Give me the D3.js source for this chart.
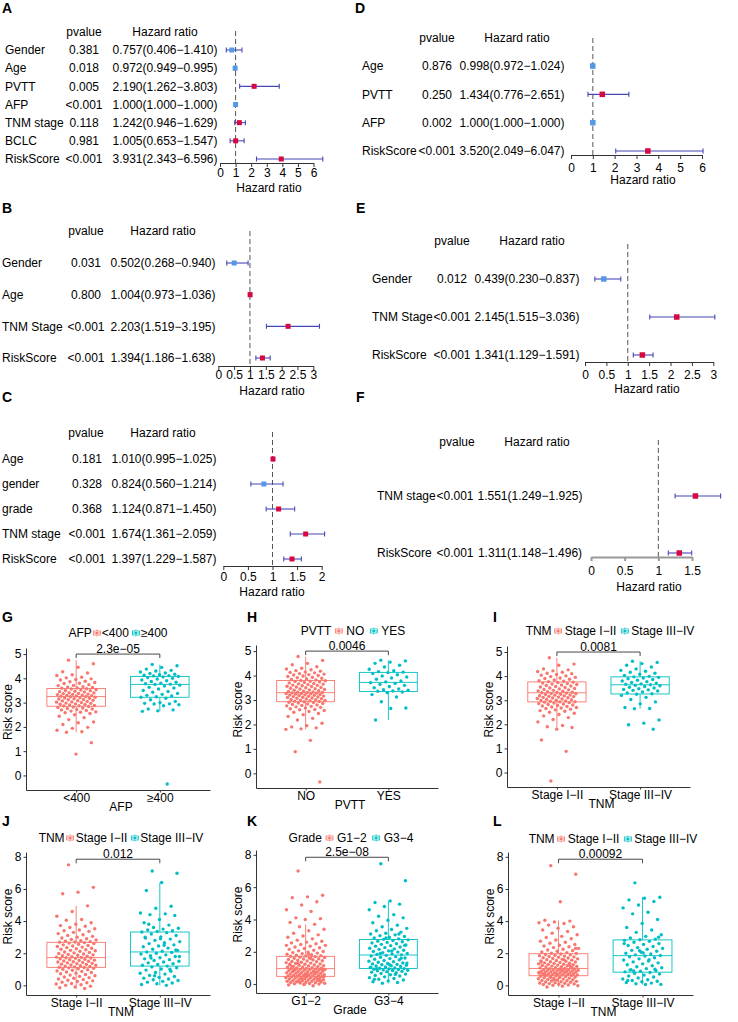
<!DOCTYPE html>
<html>
<head>
<meta charset="utf-8">
<title>Cox forest plots and risk score boxplots</title>
<style type="text/css">
  body { margin: 0; background: #fff; }
  svg { display: block; font-family: Arial, "Liberation Sans", Helvetica, sans-serif; font-size: 12px; }
</style>
</head>
<body>

<div id="chart"></div>

<script src="https://d3js.org/d3.v7.min.js"></script>
<script type="text/javascript">
// ---- forest plot data ----
var A_vars = ["Gender", "Age", "PVTT", "AFP", "TNM stage", "BCLC", "RiskScore"];
var A_p = ["0.381", "0.018", "0.005", "<0.001", "0.118", "0.981", "<0.001"];
var A_hr = [0.757, 0.972, 2.190, 1.000, 1.242, 1.005, 3.931];
var A_lo = [0.406, 0.949, 1.262, 1.000, 0.946, 0.653, 2.343];
var A_hi = [1.410, 0.995, 3.803, 1.000, 1.629, 1.547, 6.596];

var B_vars = ["Gender", "Age", "TNM Stage", "RiskScore"];
var B_p = ["0.031", "0.800", "<0.001", "<0.001"];
var B_hr = [0.502, 1.004, 2.203, 1.394];
var B_lo = [0.268, 0.973, 1.519, 1.186];
var B_hi = [0.940, 1.036, 3.195, 1.638];

var C_vars = ["Age", "gender", "grade", "TNM stage", "RiskScore"];
var C_p = ["0.181", "0.328", "0.368", "<0.001", "<0.001"];
var C_hr = [1.010, 0.824, 1.124, 1.674, 1.397];
var C_lo = [0.995, 0.560, 0.871, 1.361, 1.229];
var C_hi = [1.025, 1.214, 1.450, 2.059, 1.587];

var D_vars = ["Age", "PVTT", "AFP", "RiskScore"];
var D_p = ["0.876", "0.250", "0.002", "<0.001"];
var D_hr = [0.998, 1.434, 1.000, 3.520];
var D_lo = [0.972, 0.776, 1.000, 2.049];
var D_hi = [1.024, 2.651, 1.000, 6.047];

var E_vars = ["Gender", "TNM Stage", "RiskScore"];
var E_p = ["0.012", "<0.001", "<0.001"];
var E_hr = [0.439, 2.145, 1.341];
var E_lo = [0.230, 1.515, 1.129];
var E_hi = [0.837, 3.036, 1.591];

var F_vars = ["TNM stage", "RiskScore"];
var F_p = ["<0.001", "<0.001"];
var F_hr = [1.551, 1.311];
var F_lo = [1.249, 1.148];
var F_hi = [1.925, 1.496];

// ---- boxplot data (risk scores read off the jittered points) ----
// box stats: [lower whisker, q1, median, q3, upper whisker]
var G_cats = ["<400", "\u2265400"];
var G_box = [[1.78, 2.85, 3.25, 3.58, 4.75], [2.64, 3.22, 3.75, 4.08, 4.56]];
var G_low = [4.75,4.6,4.46,4.27,4.22,4.15,4.12,4.05,4.02,3.98,3.95,3.93,3.88,3.86,3.83,3.8,3.79,3.74,3.71,3.7,3.66,3.64,3.62,3.6,3.59,
  3.57,3.56,3.53,3.52,3.5,3.49,3.47,3.45,3.44,3.41,3.4,3.38,3.37,3.35,3.34,3.33,3.31,3.3,3.29,3.27,3.26,3.25,3.24,3.22,3.2,
  3.19,3.18,3.16,3.15,3.13,3.12,3.1,3.08,3.07,3.05,3.03,3.02,3.0,2.98,2.97,2.95,2.93,2.92,2.9,2.88,2.87,2.86,2.84,2.82,2.8,
  2.78,2.76,2.74,2.72,2.7,2.68,2.65,2.62,2.6,2.58,2.55,2.5,2.44,2.38,2.3,2.2,2.17,2.1,1.98,1.94,1.86,1.8,1.78,1.35,0.88];
var G_high = [4.57,4.52,4.45,4.38,4.33,4.3,4.26,4.22,4.2,4.17,4.15,4.13,4.11,4.1,4.08,4.06,4.03,4.0,3.97,3.93,3.9,3.87,3.84,3.8,3.78,
  3.76,3.75,3.72,3.68,3.63,3.6,3.56,3.5,3.46,3.43,3.38,3.34,3.3,3.27,3.24,3.22,3.18,3.12,3.05,3.0,2.97,2.95,2.94,2.91,2.87,2.74,2.7,2.66,2.64,-0.35];

var H_cats = ["NO", "YES"];
var H_box = [[1.8, 2.93, 3.3, 3.8, 4.77], [2.18, 3.35, 3.72, 4.13, 4.62]];
var H_no = [4.78,4.62,4.5,4.44,4.36,4.3,4.27,4.24,4.2,4.18,4.15,4.13,4.11,4.08,4.06,4.04,4.02,4.0,3.98,3.96,3.93,3.91,3.89,3.86,3.84,3.82,3.8,
  3.79,3.77,3.76,3.74,3.72,3.7,3.68,3.66,3.65,3.63,3.61,3.6,3.58,3.56,3.55,3.53,3.51,3.5,3.48,3.46,3.45,3.43,3.41,3.4,3.38,3.36,3.35,3.33,3.32,3.31,
  3.3,3.29,3.28,3.27,3.26,3.25,3.24,3.22,3.21,3.2,3.19,3.18,3.16,3.15,3.14,3.12,3.11,3.1,3.08,3.07,3.05,3.04,3.02,3.01,2.99,2.98,2.97,2.95,2.94,
  2.93,2.91,2.9,2.88,2.86,2.84,2.82,2.8,2.78,2.76,2.74,2.72,2.7,2.67,2.64,2.61,2.6,2.57,2.53,2.5,2.45,2.4,2.33,2.25,2.18,2.05,1.95,1.9,1.86,1.82,1.8,1.35,0.88,-0.35];
var H_yes = [4.63,4.6,4.55,4.5,4.42,4.35,4.26,4.2,4.16,4.14,4.12,4.08,4.03,3.98,3.94,3.9,3.85,3.78,3.74,3.71,3.68,3.64,3.6,3.55,3.5,3.45,3.42,3.4,
  3.37,3.36,3.33,3.3,3.22,3.12,2.93,2.67,2.65,2.18];

var I_cats = ["Stage I\u2212II", "Stage III\u2212IV"];
var I_box = [[1.86, 2.93, 3.31, 3.76, 4.76], [2.65, 3.26, 3.64, 3.97, 4.62]];
var I_low = [4.76,4.5,4.45,4.3,4.26,4.22,4.19,4.16,4.12,4.1,4.07,4.04,4.01,3.98,3.95,3.92,3.9,3.87,3.84,3.81,3.79,3.77,
  3.75,3.73,3.71,3.69,3.67,3.65,3.63,3.61,3.59,3.57,3.55,3.53,3.51,3.49,3.47,3.45,3.43,3.41,3.39,3.37,3.35,3.33,3.32,
  3.31,3.3,3.28,3.27,3.25,3.24,3.22,3.21,3.19,3.18,3.16,3.15,3.13,3.12,3.1,3.09,3.07,3.05,3.04,3.02,3.0,2.99,2.97,2.96,2.94,
  2.93,2.92,2.9,2.88,2.86,2.84,2.82,2.8,2.78,2.76,2.74,2.72,2.7,2.68,2.66,2.63,2.6,2.57,2.54,2.5,2.46,2.41,2.35,2.28,2.2,2.1,1.95,1.9,1.87,1.8,1.35,0.88,-0.35];
var I_high = [4.62,4.57,4.52,4.45,4.38,4.3,4.24,4.2,4.16,4.12,4.08,4.03,3.99,3.97,3.95,3.92,3.89,3.86,3.83,3.8,3.77,3.74,3.71,3.68,3.66,3.64,
  3.62,3.6,3.57,3.54,3.51,3.48,3.45,3.43,3.41,3.38,3.34,3.3,3.27,3.25,3.2,3.12,3.03,2.93,2.85,2.7,2.66,2.65,2.18,2.05,1.98,1.8];

var J_cats = ["Stage I\u2212II", "Stage III\u2212IV"];
var J_box = [[-0.2, 1.12, 1.73, 2.68, 4.95], [0.0, 1.2, 2.08, 3.32, 6.4]];
var J_low = [7.5,6.1,5.8,5.7,4.95,4.6,4.3,4.1,4.05,3.9,3.8,3.72,3.68,3.6,3.52,3.45,3.4,3.36,3.3,3.22,3.15,3.1,3.05,3.0,2.95,2.9,2.86,2.82,2.78,2.75,2.72,2.7,2.69,
  2.66,2.63,2.6,2.56,2.52,2.48,2.45,2.42,2.38,2.35,2.31,2.28,2.25,2.22,2.18,2.15,2.12,2.08,2.05,2.02,1.98,1.95,1.92,1.9,1.87,1.84,1.81,1.78,1.76,1.74,1.72,
  1.7,1.68,1.65,1.62,1.6,1.57,1.55,1.52,1.5,1.47,1.45,1.42,1.4,1.37,1.35,1.32,1.3,1.27,1.25,1.22,1.2,1.17,1.15,1.13,1.11,
  1.09,1.06,1.03,1.0,0.97,0.94,0.9,0.87,0.83,0.8,0.76,0.72,0.68,0.64,0.6,0.56,0.52,0.48,0.44,0.4,0.36,0.32,0.28,0.24,0.2,0.16,0.12,0.08,0.04,0.0,-0.05,-0.1,-0.15,-0.2];
var J_high = [7.12,6.98,6.4,5.9,4.92,4.8,4.5,4.45,4.4,4.35,4.1,3.9,3.75,3.6,3.55,3.5,3.45,3.4,3.35,3.32,
  3.28,3.2,3.1,3.02,2.95,2.88,2.8,2.72,2.65,2.6,2.52,2.45,2.4,2.32,2.25,2.18,2.12,2.08,
  2.05,2.0,1.95,1.9,1.85,1.8,1.72,1.65,1.6,1.55,1.5,1.45,1.4,1.35,1.3,1.25,1.2,
  1.15,1.1,1.02,0.95,0.88,0.8,0.75,0.7,0.62,0.55,0.5,0.45,0.4,0.35,0.3,0.25,0.2,0.15,0.1,0.05,0.0,1.7,2.2,2.9,3.0,1.0,0.6,1.8,2.5,3.8];

var K_cats = ["G1\u22122", "G3\u22124"];
var K_box = [[-0.1, 0.48, 0.96, 1.72, 3.7], [0.05, 0.97, 1.8, 2.76, 5.15]];
var K_low = [7.0,5.5,5.4,5.35,5.1,4.9,4.6,4.5,4.1,4.05,4.0,3.82,3.7,3.55,3.4,3.3,3.15,3.05,2.98,2.9,2.8,2.72,2.65,2.6,2.55,2.5,2.45,2.4,2.35,2.3,2.25,2.2,2.15,2.1,2.06,2.02,1.98,1.95,1.92,1.88,1.85,1.82,1.79,1.76,1.74,
  1.72,1.7,1.67,1.65,1.62,1.6,1.57,1.55,1.52,1.5,1.48,1.45,1.43,1.4,1.38,1.35,1.33,1.3,1.28,1.25,1.23,1.2,1.18,1.16,1.14,1.12,1.1,1.08,1.06,1.04,1.02,1.0,0.98,0.97,0.96,
  0.94,0.93,0.91,0.9,0.88,0.87,0.85,0.84,0.82,0.8,0.79,0.77,0.76,0.74,0.72,0.71,0.69,0.68,0.66,0.65,0.63,0.62,0.6,0.58,0.57,0.55,0.54,0.52,0.51,0.5,0.49,0.48,
  0.46,0.45,0.43,0.42,0.4,0.38,0.37,0.35,0.33,0.32,0.3,0.28,0.27,0.25,0.23,0.22,0.2,0.18,0.17,0.15,0.13,0.12,0.1,0.08,0.07,0.05,0.04,0.02,0.0,-0.02,-0.05,-0.1,
  1.3,0.9,0.6,1.1,0.75,0.35,2.4,1.6,0.95,0.2,0.55,1.25,0.7,0.15,0.45,1.85,0.85,0.3];
var K_high = [7.45,6.4,5.15,5.05,4.95,4.8,4.6,4.3,4.2,4.1,3.95,3.8,3.65,3.55,3.45,3.38,3.3,3.22,3.15,3.1,3.05,3.0,2.95,2.9,2.85,2.8,2.77,
  2.74,2.7,2.66,2.62,2.58,2.55,2.5,2.46,2.42,2.38,2.35,2.3,2.26,2.22,2.18,2.15,2.1,2.06,2.02,1.98,1.95,1.9,1.87,1.84,1.81,
  1.78,1.74,1.7,1.66,1.62,1.58,1.54,1.5,1.46,1.42,1.38,1.35,1.31,1.28,1.25,1.22,1.2,1.17,1.14,1.12,1.09,1.06,1.03,1.0,0.98,
  0.96,0.94,0.92,0.9,0.88,0.86,0.84,0.82,0.8,0.77,0.74,0.7,0.66,0.62,0.58,0.54,0.5,0.45,0.4,0.35,0.3,0.25,0.2,0.15,0.1,0.05,
  1.3,2.05,0.95,1.6,2.85,1.05,0.6,1.9,2.4,1.2,0.3,3.1];

var L_cats = ["Stage I\u2212II", "Stage III\u2212IV"];
var L_box = [[-0.1, 0.6, 1.05, 1.97, 4.05], [0.05, 0.82, 1.85, 2.83, 5.5]];
var L_low = [7.45,6.92,5.2,4.05,4.0,3.95,3.9,3.85,3.75,3.65,3.55,3.45,3.35,3.25,3.15,3.05,2.98,2.9,2.82,2.75,2.68,2.62,2.55,2.5,2.45,2.4,2.35,2.3,2.25,2.2,2.16,2.12,2.08,2.04,2.0,1.98,
  1.95,1.92,1.9,1.87,1.85,1.82,1.8,1.77,1.75,1.72,1.7,1.67,1.65,1.62,1.6,1.57,1.55,1.52,1.5,1.47,1.45,1.43,1.4,1.38,1.36,1.34,1.32,1.3,1.28,1.26,1.24,1.22,1.2,1.18,1.16,1.14,1.12,1.1,1.08,1.06,
  1.04,1.02,1.0,0.98,0.97,0.96,0.94,0.93,0.92,0.9,0.89,0.87,0.86,0.85,0.83,0.82,0.8,0.79,0.78,0.76,0.75,0.73,0.72,0.7,0.69,0.68,0.66,0.65,0.64,0.62,0.61,
  0.59,0.57,0.55,0.53,0.51,0.49,0.47,0.45,0.43,0.41,0.39,0.37,0.35,0.33,0.31,0.29,0.27,0.25,0.23,0.21,0.19,0.17,0.15,0.13,0.11,0.09,0.07,0.05,0.03,0.01,-0.02,-0.05,-0.1,
  1.1,0.7,1.45,0.9,0.5,2.3,1.0,0.65,1.25,0.35,0.8,1.6];
var L_high = [6.38,5.48,5.42,5.32,5.22,5.0,4.82,4.55,4.45,4.1,3.85,3.6,3.45,3.3,3.15,3.05,2.95,2.88,2.84,
  2.8,2.74,2.68,2.6,2.55,2.48,2.42,2.35,2.3,2.25,2.18,2.12,2.06,2.0,1.95,1.9,1.86,
  1.83,1.78,1.72,1.65,1.58,1.52,1.46,1.4,1.34,1.28,1.22,1.16,1.1,1.04,0.98,0.93,0.88,0.84,
  0.8,0.75,0.7,0.64,0.58,0.52,0.46,0.4,0.35,0.3,0.26,0.22,0.18,0.14,0.1,0.06,0.05,0.95,1.0,2.15,2.6,1.6,0.9,3.0,2.02,0.3];

// ---- drawing ----
var svg = d3.select("#chart").append("svg")
  .attr("width", 738)
  .attr("height", 1022);

var red = "#D6083F", blue = "#5399E6", ciCol = "#4747B8";
var grpCols = ["#F8766D", "#00BFC4"];
var fmt3 = d3.format(".3f");

function letter(t, x, y) {
  svg.append("text").attr("x", x).attr("y", y)
    .attr("font-size", 14).attr("font-weight", "bold").text(t);
}

function forest(f) {
  var g = svg.append("g");
  var x = d3.scaleLinear().domain([0, f.max]).range([f.x0, f.x1]);
  var y = d3.scalePoint().domain(f.vars).range([f.y0, f.y1]);
  var rows = f.vars.map(function(v, i) {
    return {v: v, p: f.p[i], hr: f.hr[i], lo: f.lo[i], hi: f.hi[i]};
  });

  g.append("text").attr("x", f.pHead).attr("y", f.headY).attr("dy", "0.35em")
    .attr("text-anchor", "middle").text("pvalue");
  g.append("text").attr("x", f.hHead).attr("y", f.headY).attr("dy", "0.35em")
    .attr("text-anchor", "middle").text("Hazard ratio");

  g.selectAll(".lab").data(rows).join("text")
    .attr("x", f.labX).attr("y", function(d) { return y(d.v); }).attr("dy", "0.35em")
    .text(function(d) { return d.v; });
  g.selectAll(".pv").data(rows).join("text")
    .attr("x", f.pX).attr("y", function(d) { return y(d.v); }).attr("dy", "0.35em")
    .attr("text-anchor", "middle").text(function(d) { return d.p; });
  g.selectAll(".hrt").data(rows).join("text")
    .attr("x", f.hX).attr("y", function(d) { return y(d.v); }).attr("dy", "0.35em")
    .attr("text-anchor", "middle")
    .text(function(d) { return fmt3(d.hr) + "(" + fmt3(d.lo) + "\u2212" + fmt3(d.hi) + ")"; });

  g.append("line")
    .attr("x1", x(1)).attr("x2", x(1)).attr("y1", f.dashTop).attr("y2", f.axisY)
    .attr("stroke", "#555").attr("stroke-dasharray", "5,3");

  var ci = g.selectAll(".ci").data(rows).join("g")
    .attr("transform", function(d) { return "translate(0," + y(d.v) + ")"; });
  ci.append("line")
    .attr("x1", function(d) { return x(d.lo); }).attr("x2", function(d) { return x(d.hi); })
    .attr("stroke", ciCol).attr("stroke-width", 1.1);
  ci.append("path")
    .attr("d", function(d) { return "M" + x(d.lo) + ",-2.5V2.5M" + x(d.hi) + ",-2.5V2.5"; })
    .attr("stroke", ciCol).attr("stroke-width", 1.1);
  ci.append("rect")
    .attr("x", function(d) { return x(d.hr) - f.bs / 2; }).attr("y", -f.bs / 2)
    .attr("width", f.bs).attr("height", f.bs)
    .attr("fill", function(d) { return d.hr > 1 ? red : blue; });

  var ax = g.append("g").attr("transform", "translate(0," + f.axisY + ")")
    .call(d3.axisBottom(x).tickValues(f.ticks).tickFormat(d3.format("~g"))
      .tickSize(4).tickSizeOuter(0).tickPadding(f.pad));
  ax.attr("font-size", null).attr("font-family", null);
  ax.selectAll("path, line").attr("stroke", f.axCol).attr("stroke-width", f.axW);

  g.append("text").attr("x", f.titleX).attr("y", f.titleY).attr("dy", "0.35em")
    .attr("text-anchor", "middle").text("Hazard ratio");
}

function jit(j) {
  return (((j * 0.618034 + 0.31) % 1) - 0.5) * 0.48;
}

function boxPanel(b) {
  var g = svg.append("g");
  var x = d3.scalePoint().domain(b.cats).range([b.left, b.right]).padding(0.6);
  var y = d3.scaleLinear().domain(b.dom).range([b.bottom, b.top]);
  var step = x.step(), bw = step * 0.7;

  b.cats.forEach(function(c, i) {
    var s = b.stats[i], col = grpCols[i], cx = x(c);
    var gg = g.append("g").attr("stroke", col).attr("stroke-width", 0.9);
    gg.append("line").attr("x1", cx).attr("x2", cx).attr("y1", y(s[0])).attr("y2", y(s[1]));
    gg.append("line").attr("x1", cx).attr("x2", cx).attr("y1", y(s[3])).attr("y2", y(s[4]));
    gg.append("rect")
      .attr("x", cx - bw / 2).attr("y", y(s[3]))
      .attr("width", bw).attr("height", y(s[1]) - y(s[3]))
      .attr("fill", "none");
    gg.append("line").attr("x1", cx - bw / 2).attr("x2", cx + bw / 2)
      .attr("y1", y(s[2])).attr("y2", y(s[2]));
    g.append("g").selectAll("circle").data(b.vals[i]).join("circle")
      .attr("cx", function(d, j) { return cx + jit(j) * step; })
      .attr("cy", function(d) { return y(d); })
      .attr("r", 1.7)
      .attr("fill", col);
  });

  var ya = g.append("g").attr("transform", "translate(" + b.left + ",0)")
    .call(d3.axisLeft(y).tickValues(b.ticks).tickFormat(d3.format("d"))
      .tickSize(2.5).tickPadding(2).tickSizeOuter(0));
  var xa = g.append("g").attr("transform", "translate(0," + b.bottom + ")")
    .call(d3.axisBottom(x).tickSize(2.5).tickPadding(1).tickSizeOuter(0));
  [ya, xa].forEach(function(a) {
    a.attr("font-size", null).attr("font-family", null);
    a.selectAll("path, line").attr("stroke", "#333");
    a.selectAll("text").attr("fill", "#000");
  });

  g.append("text")
    .attr("transform", "translate(" + (b.left - 18) + "," + ((b.top + b.bottom) / 2 - 7) + ")rotate(-90)")
    .attr("text-anchor", "middle").attr("dy", "0.35em").text("Risk score");
  g.append("text").attr("x", (b.left + b.right) / 2 + 3).attr("y", b.bottom + 17)
    .attr("text-anchor", "middle").attr("dy", "0.35em").text(b.xTitle);

  // significance bracket
  var x0 = x(b.cats[0]), x1 = x(b.cats[1]), by = y(b.bracket);
  g.append("path")
    .attr("d", "M" + x0 + "," + (by + 4) + "V" + by + "H" + x1 + "V" + (by + 4))
    .attr("fill", "none").attr("stroke", "#333").attr("stroke-width", 0.9);
  g.append("text").attr("x", (x0 + x1) / 2).attr("y", by - 1.5)
    .attr("text-anchor", "middle").text(b.pval);

  // legend on top
  var lg = g.append("g");
  var t = lg.append("text").attr("dy", "0.35em").text(b.xTitle);
  var cur = t.node().getComputedTextLength() + b.gap;
  b.cats.forEach(function(c, i) {
    var k = lg.append("g").attr("transform", "translate(" + cur + ",0)")
      .attr("stroke", grpCols[i]).attr("stroke-width", 0.8).attr("fill", "none");
    k.append("line").attr("x1", 3.5).attr("x2", 3.5).attr("y1", -3.5).attr("y2", 3.5);
    k.append("rect").attr("x", 0).attr("y", -2).attr("width", 7).attr("height", 4).attr("fill", "#fff");
    k.append("line").attr("x1", 0).attr("x2", 7).attr("y1", 0).attr("y2", 0);
    k.append("circle").attr("cx", 3.5).attr("cy", 0).attr("r", 1.3).attr("fill", grpCols[i]).attr("stroke", "none");
    cur += 7 + b.gap;
    var lt = lg.append("text").attr("x", cur).attr("dy", "0.35em").text(c);
    cur += lt.node().getComputedTextLength() + b.gap + 2;
  });
  lg.attr("transform", "translate(" + (b.legX - (cur - b.gap - 2) / 2) + "," + b.legY + ")");
}

// forest panels
letter("A", 2, 13);
forest({vars: A_vars, p: A_p, hr: A_hr, lo: A_lo, hi: A_hi,
  labX: 5, pX: 84, hX: 165, pHead: 84, hHead: 165, headY: 32,
  y0: 50, y1: 159, x0: 220, x1: 313.5, max: 6, ticks: [0, 1, 2, 3, 4, 5, 6],
  axisY: 163, pad: 1, dashTop: 31, titleX: 269, titleY: 188, bs: 5, axCol: "#333", axW: 1});

letter("B", 2, 213);
forest({vars: B_vars, p: B_p, hr: B_hr, lo: B_lo, hi: B_hi,
  labX: 2, pX: 86, hX: 163, pHead: 86, hHead: 163, headY: 231,
  y0: 263, y1: 358, x0: 218.3, x1: 313.3, max: 3, ticks: [0, 0.5, 1, 1.5, 2, 2.5, 3],
  axisY: 366, pad: 0, dashTop: 231, titleX: 272, titleY: 391, bs: 5, axCol: "#333", axW: 1});

letter("C", 2, 402);
forest({vars: C_vars, p: C_p, hr: C_hr, lo: C_lo, hi: C_hi,
  labX: 2, pX: 87, hX: 164, pHead: 86, hHead: 163, headY: 433,
  y0: 459, y1: 559, x0: 223.3, x1: 321.7, max: 2, ticks: [0, 0.5, 1, 1.5, 2],
  axisY: 566, pad: 2, dashTop: 432, titleX: 272, titleY: 592, bs: 5, axCol: "#333", axW: 1});

letter("D", 355, 13);
forest({vars: D_vars, p: D_p, hr: D_hr, lo: D_lo, hi: D_hi,
  labX: 362, pX: 437, hX: 512, pHead: 437, hHead: 517, headY: 38,
  y0: 66, y1: 151, x0: 571, x1: 702, max: 6, ticks: [0, 1, 2, 3, 4, 5, 6],
  axisY: 155, pad: 4, dashTop: 38, titleX: 643, titleY: 180, bs: 5.5, axCol: "#333", axW: 1});

letter("E", 356, 213);
forest({vars: E_vars, p: E_p, hr: E_hr, lo: E_lo, hi: E_hi,
  labX: 372, pX: 452, hX: 527, pHead: 452, hHead: 532, headY: 241,
  y0: 279, y1: 355, x0: 585, x1: 713.3, max: 3, ticks: [0, 0.5, 1, 1.5, 2, 2.5, 3],
  axisY: 362, pad: 4, dashTop: 244, titleX: 647, titleY: 389, bs: 5.5, axCol: "#333", axW: 1});

letter("F", 356, 402);
forest({vars: F_vars, p: F_p, hr: F_hr, lo: F_lo, hi: F_hi,
  labX: 377, pX: 455, hX: 530, pHead: 457, hHead: 537, headY: 442,
  y0: 496, y1: 553, x0: 591, x1: 692, max: 1.5, ticks: [0, 0.5, 1, 1.5],
  axisY: 557, pad: 5, dashTop: 440, titleX: 649, titleY: 587, bs: 5.5, axCol: "#999", axW: 2});

// boxplot panels
letter("G", 2, 622);
boxPanel({cats: G_cats, vals: [G_low, G_high], stats: G_box, xTitle: "AFP", pval: "2.3e\u221205",
  left: 26, right: 210, top: 648, bottom: 790, dom: [-0.6, 5.25], ticks: [0, 1, 2, 3, 4, 5],
  bracket: 5.0, legX: 118, legY: 633, gap: 1.5});

letter("H", 247, 622);
boxPanel({cats: H_cats, vals: [H_no, H_yes], stats: H_box, xTitle: "PVTT", pval: "0.0046",
  left: 256, right: 438, top: 645, bottom: 788, dom: [-0.6, 5.25], ticks: [0, 1, 2, 3, 4, 5],
  bracket: 5.0, legX: 353, legY: 631, gap: 4});

letter("I", 493, 622);
boxPanel({cats: I_cats, vals: [I_low, I_high], stats: I_box, xTitle: "TNM", pval: "0.0081",
  left: 507, right: 690, top: 646, bottom: 787, dom: [-0.6, 5.25], ticks: [0, 1, 2, 3, 4, 5],
  bracket: 5.0, legX: 610, legY: 631, gap: 3});

letter("J", 2, 826);
boxPanel({cats: J_cats, vals: [J_low, J_high], stats: J_box, xTitle: "TNM", pval: "0.012",
  left: 26, right: 210, top: 852, bottom: 995, dom: [-0.6, 8.3], ticks: [0, 2, 4, 6, 8],
  bracket: 7.85, legX: 121, legY: 838, gap: 2});

letter("K", 247, 826);
boxPanel({cats: K_cats, vals: [K_low, K_high], stats: K_box, xTitle: "Grade", pval: "2.5e\u221208",
  left: 256, right: 438, top: 850, bottom: 993, dom: [-0.55, 8.3], ticks: [0, 2, 4, 6, 8],
  bracket: 7.85, legX: 351, legY: 838, gap: 4});

letter("L", 493, 826);
boxPanel({cats: L_cats, vals: [L_low, L_high], stats: L_box, xTitle: "TNM", pval: "0.00092",
  left: 508, right: 693, top: 852, bottom: 995, dom: [-0.6, 8.3], ticks: [0, 2, 4, 6, 8],
  bracket: 7.85, legX: 613, legY: 839, gap: 3});
</script>
</body>
</html>
